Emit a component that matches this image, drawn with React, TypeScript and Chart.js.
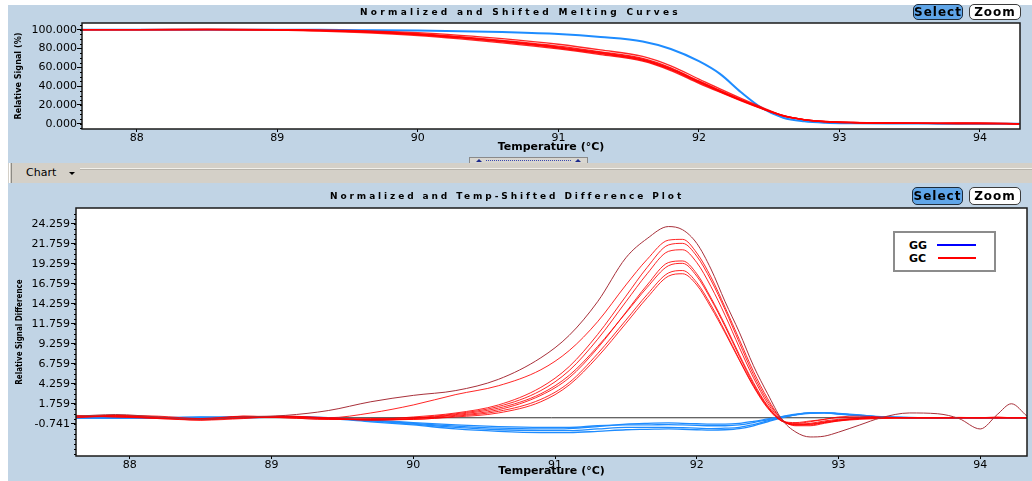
import React, { useEffect, useRef } from "react";
import { Chart, registerables } from "chart.js";

Chart.register(...registerables);

const TICK_FONT = "'DejaVu Sans', Verdana, sans-serif";
const NARROW_FONT = "'Liberation Sans Narrow', 'DejaVu Sans Condensed', 'Arial Narrow', 'DejaVu Sans', sans-serif";

// ---------- Top panel: normalized melting curves ----------
const topTemps = [87.61, 88.0, 88.5, 89.0, 89.3, 89.6, 90.0, 90.3, 90.6, 91.0, 91.3, 91.6, 91.8, 92.0, 92.15, 92.3, 92.45, 92.6, 92.75, 92.9, 93.1, 93.4, 93.7, 94.0, 94.28];
const topGG = [100, 100, 100, 100, 99.8, 99.5, 99, 98.4, 97.4, 95.3, 92.2, 87.5, 79.5, 66.5, 53, 33.5, 16.5, 6.4, 2.6, 1.1, 0.5, 0.2, 0.1, 0, 0];
const topGC1 = [100, 100, 100, 100, 99.6, 99, 96.8, 94, 90.5, 84.5, 78.5, 71.5, 61.5, 47.5, 37, 27, 17.5, 8.8, 4.2, 2.1, 1.1, 0.5, 0.3, 0.2, 0];
const topGC2 = [100, 100, 100.4, 100, 99.3, 98.4, 95.8, 92.6, 88.6, 82.5, 76.5, 69.5, 59.5, 45.5, 35.5, 25.7, 16.6, 8.5, 4.2, 2.2, 1.2, 0.6, 0.3, 0.2, 0];
const topGC3 = [100, 100, 100, 99.8, 99, 97.8, 95, 91.6, 87.5, 81, 75, 68, 58, 44.5, 34.5, 25, 16.2, 8.4, 4.4, 2.4, 1.4, 0.8, 0.5, 0.6, 0.2];
const topGC4 = [100, 100, 100, 99.5, 98.6, 97, 93.8, 90.2, 86, 79.5, 73.5, 66.5, 56.5, 43, 33.5, 24.3, 15.8, 8.2, 4.4, 2.5, 1.4, 0.6, 0.2, 0.3, -0.3];
const topGC5 = [100, 100, 100.5, 100, 99.2, 98.1, 95.3, 92, 88, 81.8, 75.8, 68.8, 58.8, 45, 35, 25.3, 16.4, 8.5, 4.2, 2.1, 1.0, 0.4, 0.4, 0.2, 0.1];
const topGC6 = [100, 100, 100, 99.7, 99.1, 97.6, 94.6, 91.2, 87, 80.5, 74.5, 67.5, 57.5, 44, 34.2, 24.8, 16, 8.3, 4.3, 2.3, 1.3, 0.7, 0.4, 0.8, 0];

// ---------- Bottom panel: difference plot ----------
const diffTemps = [87.62, 87.9, 88.2, 88.5, 88.8, 89.1, 89.4, 89.7, 90.0, 90.3, 90.6, 90.9, 91.1, 91.3, 91.5, 91.65, 91.8, 91.9, 92.0, 92.1, 92.2, 92.3, 92.4, 92.5, 92.6, 92.7, 92.8, 92.9, 93.0, 93.15, 93.3, 93.5, 93.7, 93.85, 94.0, 94.12, 94.22, 94.33];
const diffGC1 = [0.2, 0.4, 0.1, -0.2, 0.1, 0.3, 0.9, 2.0, 2.8, 3.4, 4.8, 7.5, 10.3, 14.5, 20.0, 22.4, 23.9, 23.5, 21.8, 18.6, 14.5, 10.7, 6.5, 3.0, -0.2, -1.8, -2.4, -2.3, -1.8, -0.9, 0.0, 0.6, 0.5, -0.1, -1.4, 0.4, 1.75, 0.2];
const diffGC2 = [0.1, 0.3, 0.2, -0.1, 0.2, 0.1, 0.0, 0.6, 1.6, 2.9, 4.0, 6.0, 8.4, 12.0, 16.6, 19.8, 22.2, 22.3, 20.6, 17.6, 13.8, 9.8, 5.8, 2.4, -0.2, -1.0, -1.0, -0.7, -0.4, -0.1, 0.0, 0.0, 0.0, 0.05, 0.0, 0.1, 0.0, 0.0];
const diffGC3 = [0.1, 0.2, 0.0, -0.2, 0.0, 0.2, -0.1, -0.2, 0.1, 0.6, 1.6, 3.8, 6.4, 10.4, 15.2, 18.8, 21.6, 21.8, 20.2, 17.2, 13.5, 9.4, 5.4, 2.1, -0.2, -0.9, -0.9, -0.6, -0.3, -0.1, 0.0, 0.0, 0.0, 0.0, 0.0, 0.0, 0.0, 0.0];
const diffGC4 = [0.3, 0.1, -0.1, -0.3, 0.2, 0.0, -0.2, -0.1, 0.0, 0.5, 1.4, 3.4, 5.9, 9.8, 14.5, 18.0, 20.8, 21.0, 19.4, 16.4, 12.8, 8.8, 5.0, 1.8, -0.3, -0.8, -0.7, -0.4, -0.2, -0.1, 0.0, 0.0, 0.0, 0.0, 0.0, 0.0, 0.0, 0.0];
const diffGC5 = [0.0, 0.2, 0.1, -0.2, 0.0, 0.1, -0.1, -0.2, -0.1, 0.3, 1.0, 2.8, 5.0, 8.7, 13.2, 16.6, 19.4, 19.6, 18.0, 15.0, 11.6, 7.9, 4.4, 1.5, -0.4, -0.9, -0.8, -0.5, -0.3, -0.1, 0.0, 0.0, 0.0, 0.0, 0.0, 0.0, 0.0, 0.0];
const diffGC6 = [0.2, 0.1, 0.0, -0.3, -0.1, 0.2, 0.0, -0.3, -0.1, 0.4, 1.2, 3.0, 5.3, 8.9, 13.1, 16.3, 19.0, 19.3, 17.7, 14.8, 11.4, 7.7, 4.2, 1.4, -0.4, -0.7, -0.5, -0.2, 0.0, 0.0, 0.0, 0.0, 0.0, 0.0, 0.0, 0.0, 0.0, 0.0];
const diffGC7 = [0.1, 0.3, 0.0, -0.1, 0.1, 0.0, -0.2, -0.2, -0.2, 0.2, 0.8, 2.3, 4.4, 8.0, 12.2, 15.4, 18.1, 18.4, 16.9, 14.1, 10.8, 7.3, 4.0, 1.3, -0.4, -0.8, -0.8, -0.6, -0.4, -0.2, -0.1, 0.0, 0.0, 0.0, 0.0, 0.0, 0.0, 0.0];
const diffGC8 = [0.2, 0.2, -0.1, -0.2, 0.0, 0.1, -0.1, -0.3, -0.2, 0.1, 0.6, 2.0, 4.1, 7.6, 11.8, 15.0, 17.7, 18.0, 16.6, 13.8, 10.6, 7.2, 3.9, 1.2, -0.4, -0.6, -0.4, -0.2, 0.1, 0.2, 0.1, 0.0, 0.0, 0.0, 0.0, 0.0, 0.0, 0.0];
const diffGG1 = [0.0, -0.05, 0.0, 0.1, 0.05, 0.1, -0.05, -0.3, -0.6, -0.9, -1.1, -1.2, -1.2, -1.0, -0.9, -0.9, -0.85, -0.9, -0.95, -1.0, -1.0, -0.9, -0.6, -0.25, 0.1, 0.4, 0.6, 0.65, 0.5, 0.3, 0.1, 0.0, 0.0, 0.0, 0.0, 0.0, 0.0, 0.0];
const diffGG2 = [-0.05, 0.0, 0.05, 0.0, 0.1, 0.15, 0.0, -0.4, -0.8, -1.2, -1.5, -1.6, -1.6, -1.4, -1.2, -1.2, -1.2, -1.25, -1.3, -1.35, -1.3, -1.2, -0.85, -0.4, 0.05, 0.35, 0.55, 0.6, 0.5, 0.3, 0.15, 0.05, 0.0, 0.0, 0.0, 0.0, 0.0, 0.0];
const diffGG3 = [0.0, 0.0, -0.05, 0.05, 0.1, 0.1, -0.1, -0.5, -0.9, -1.4, -1.7, -1.85, -1.85, -1.7, -1.5, -1.45, -1.4, -1.45, -1.5, -1.55, -1.5, -1.35, -1.0, -0.5, 0.0, 0.4, 0.6, 0.65, 0.55, 0.35, 0.1, 0.0, 0.0, 0.0, 0.0, 0.0, 0.0, 0.0];
const diffGG4 = [0.05, 0.0, 0.0, 0.05, 0.0, 0.1, 0.0, -0.35, -0.7, -1.05, -1.3, -1.4, -1.35, -1.1, -0.8, -0.7, -0.65, -0.7, -0.75, -0.8, -0.8, -0.7, -0.45, -0.15, 0.15, 0.45, 0.6, 0.6, 0.45, 0.25, 0.1, 0.0, 0.0, 0.0, 0.0, 0.0, 0.0, 0.0];
const zeroTemps = [87.62, 94.33];
const zeroValues = [0, 0];

// ---------- Ticks ----------
const xTickValues = [88, 89, 90, 91, 92, 93, 94];
const topYTickValues = [0, 20, 40, 60, 80, 100];
const diffYTickValues = [-0.741, 1.759, 4.259, 6.759, 9.259, 11.759, 14.259, 16.759, 19.259, 21.759, 24.259];

const pts = (xs: number[], ys: number[]) => xs.map((x, i) => ({ x, y: ys[i] }));

const framePlugin = {
  id: "frame",
  beforeDraw(chart: any) {
    const { ctx, chartArea: a } = chart;
    ctx.save();
    ctx.fillStyle = "#ffffff";
    ctx.fillRect(a.left, a.top, a.right - a.left, a.bottom - a.top);
    ctx.restore();
  },
  afterDraw(chart: any, _args: any, opts: any) {
    const { ctx, chartArea: a, scales } = chart;
    ctx.save();
    ctx.strokeStyle = "#1a1a1a";
    ctx.lineWidth = 1.5;
    ctx.strokeRect(a.left, a.top, a.right - a.left, a.bottom - a.top);
    if (opts && opts.minorY) {
      const { start, step, end, len } = opts.minorY;
      ctx.lineWidth = 1;
      ctx.strokeStyle = "#000";
      ctx.beginPath();
      for (let v = start; v <= end + 1e-9; v += step) {
        const y = Math.round(scales.y.getPixelForValue(v)) + 0.5;
        if (y < a.top || y > a.bottom) continue;
        ctx.moveTo(a.left - len, y);
        ctx.lineTo(a.left, y);
      }
      ctx.stroke();
    }
    ctx.restore();
  },
};

function xScale(min: number, max: number, height: number, titlePad: number) {
  return {
    type: "linear",
    min,
    max,
    afterBuildTicks: (s: any) => {
      s.ticks = xTickValues.map((v) => ({ value: v }));
    },
    afterFit: (s: any) => {
      s.height = height;
    },
    grid: { drawOnChartArea: false, drawTicks: true, tickLength: 3, color: "#000" },
    border: { display: false },
    ticks: {
      padding: 0,
      color: "#000",
      autoSkip: false,
      maxRotation: 0,
      font: { family: TICK_FONT, size: 11 },
      callback: (v: any) => String(v),
    },
    title: {
      display: true,
      text: "Temperature (°C)",
      color: "#000",
      font: { family: TICK_FONT, size: 11, weight: "bold" },
      padding: { top: 0, bottom: titlePad },
    },
  };
}

function yScale(
  min: number,
  max: number,
  width: number,
  tickVals: number[],
  title: string,
  titleX: number,
  titleSize: number,
  tickPad: number
) {
  return {
    type: "linear",
    min,
    max,
    afterBuildTicks: (s: any) => {
      s.ticks = tickVals.map((v) => ({ value: v }));
    },
    afterFit: (s: any) => {
      s.width = width;
    },
    grid: { drawOnChartArea: false, drawTicks: true, tickLength: 5, color: "#000" },
    border: { display: false },
    ticks: {
      padding: tickPad,
      color: "#000",
      autoSkip: false,
      font: { family: TICK_FONT, size: 11 },
      callback: (v: any) => Number(v).toFixed(3),
    },
    title: {
      display: true,
      text: title,
      color: "#000",
      font: { family: NARROW_FONT, size: titleSize, weight: "bold", lineHeight: 1.2 },
      padding: { top: titleX - titleSize * 0.6, bottom: 0 },
    },
  };
}

const RED = "rgba(255,0,0,0.85)";
const DARK_RED = "#a8303a";
const BLUE = "#1e8cff";

function topConfig(): any {
  const reds = [topGC1, topGC2, topGC3, topGC4, topGC5, topGC6].map((v) => ({
    data: pts(topTemps, v),
    borderColor: RED,
    borderWidth: 1.3,
  }));
  return {
    type: "line",
    data: {
      datasets: [...reds, { data: pts(topTemps, topGG), borderColor: BLUE, borderWidth: 2 }],
    },
    options: {
      responsive: false,
      animation: false,
      layout: { padding: { top: 23, right: 12, left: 0, bottom: 1 } },
      elements: { point: { radius: 0 }, line: { cubicInterpolationMode: "monotone", fill: false } },
      plugins: {
        legend: { display: false },
        tooltip: { enabled: false },
        frame: { minorY: { start: -5, step: 5, end: 105, len: 2 } },
      },
      scales: {
        x: xScale(87.61, 94.285, 25, 0),
        y: yScale(-5.6, 107.1, 82, topYTickValues, "Relative Signal (%)", 19, 9, 0),
      },
    },
    plugins: [framePlugin],
  };
}

function bottomConfig(): any {
  const redSets = [diffGC1, diffGC2, diffGC3, diffGC4, diffGC5, diffGC6, diffGC7, diffGC8].map((v, i) => ({
    data: pts(diffTemps, v),
    borderColor: i === 0 ? DARK_RED : RED,
    borderWidth: 1,
  }));
  const blueSets = [diffGG1, diffGG2, diffGG3, diffGG4].map((v) => ({
    data: pts(diffTemps, v),
    borderColor: BLUE,
    borderWidth: 1.3,
  }));
  return {
    type: "line",
    data: {
      datasets: [
        ...redSets,
        ...blueSets,
        { data: pts(zeroTemps, zeroValues), borderColor: "#303030", borderWidth: 1, cubicInterpolationMode: "default", tension: 0 },
      ],
    },
    options: {
      responsive: false,
      animation: false,
      layout: { padding: { top: 25, right: 5, left: 0, bottom: 3 } },
      elements: { point: { radius: 0 }, line: { cubicInterpolationMode: "monotone", fill: false } },
      plugins: {
        legend: { display: false },
        tooltip: { enabled: false },
        frame: { minorY: { start: -4.491, step: 0.625, end: 26, len: 2 } },
      },
      scales: {
        x: xScale(87.62, 94.33, 22, 0),
        y: yScale(-4.78, 26.22, 76, diffYTickValues, "Relative Signal Difference", 20, 8, 1),
      },
    },
    plugins: [framePlugin],
  };
}

const BG = "#c1d4e5";

function Button({ left, top, w, h, active, children }: any) {
  return (
    <div
      style={{
        position: "absolute",
        left,
        top,
        width: w,
        height: h,
        boxSizing: "border-box",
        border: active ? "1px solid #1d2b3a" : "1px solid #3c3c3c",
        borderRadius: 5,
        background: active ? "#5fa5e8" : "#ffffff",
        font: `bold 12px ${TICK_FONT}`,
        letterSpacing: 1,
        color: "#000",
        textAlign: "center",
        lineHeight: `${h - 2}px`,
      }}
    >
      {children}
    </div>
  );
}

const titleStyle = (left: number, top: number, spacing: number): React.CSSProperties => ({
  position: "absolute",
  left,
  top,
  font: `bold 9px ${TICK_FONT}`,
  letterSpacing: spacing,
  lineHeight: "11px",
  color: "#000",
  whiteSpace: "nowrap",
});

export default function App() {
  const topRef = useRef<HTMLCanvasElement>(null);
  const botRef = useRef<HTMLCanvasElement>(null);

  useEffect(() => {
    const c1 = new Chart(topRef.current as HTMLCanvasElement, topConfig());
    const c2 = new Chart(botRef.current as HTMLCanvasElement, bottomConfig());
    return () => {
      c1.destroy();
      c2.destroy();
    };
  }, []);

  return (
    <div style={{ position: "fixed", left: 0, top: 0, width: 1032, height: 481, background: BG, overflow: "hidden" }}>
      <div style={{ position: "absolute", left: 0, top: 0, width: 8, height: 481, background: "#fff" }} />
      <div style={{ position: "absolute", left: 0, top: 0, width: 1032, height: 5, background: "#fff" }} />

      <canvas ref={topRef} width={1032} height={155} style={{ position: "absolute", left: 0, top: 0, width: 1032, height: 155 }} />
      <div style={titleStyle(360, 7, 3.3)}>Normalized and Shifted Melting Curves</div>
      <Button left={913} top={4} w={50} h={16} active>
        Select
      </Button>
      <Button left={969} top={4} w={52} h={16}>
        Zoom
      </Button>

      {/* splitter handle */}
      <div
        style={{
          position: "absolute",
          left: 469,
          top: 157,
          width: 119,
          height: 7,
          boxSizing: "border-box",
          background: "#d8d6d0",
          border: "1px solid #8a8a8a",
        }}
      >
        <div style={{ position: "absolute", left: 6, top: 1, width: 0, height: 0, borderLeft: "3px solid transparent", borderRight: "3px solid transparent", borderBottom: "3px solid #1c2a8c" }} />
        <div style={{ position: "absolute", left: 16, right: 16, top: 2, borderTop: "1px dotted #3a4ab0" }} />
        <div style={{ position: "absolute", right: 6, top: 1, width: 0, height: 0, borderLeft: "3px solid transparent", borderRight: "3px solid transparent", borderBottom: "3px solid #1c2a8c" }} />
      </div>

      {/* toolbar */}
      <div style={{ position: "absolute", left: 8, top: 163, width: 1024, height: 20, background: "#d4d0c8" }}>
        <div style={{ position: "absolute", left: 1, top: 0, width: 1, height: 20, background: "#ffffff" }} />
        <div style={{ position: "absolute", left: 3, top: 0, width: 1, height: 20, background: "#8c8a84" }} />
        <div style={{ position: "absolute", left: 72, top: 5, width: 952, height: 1, background: "#f2f0ea" }} />
        <div style={{ position: "absolute", left: 72, top: 6, width: 952, height: 1, background: "#b8b4ac" }} />
        <div style={{ position: "absolute", left: 18, top: 3, font: `11px ${TICK_FONT}`, lineHeight: "14px", color: "#000" }}>Chart</div>
        <div style={{ position: "absolute", left: 61, top: 9, width: 0, height: 0, borderLeft: "3px solid transparent", borderRight: "3px solid transparent", borderTop: "3px solid #000" }} />
      </div>

      <canvas ref={botRef} width={1032} height={298} style={{ position: "absolute", left: 0, top: 183, width: 1032, height: 298 }} />
      <div style={titleStyle(330, 191, 2.9)}>Normalized and Temp-Shifted Difference Plot</div>
      <Button left={912} top={187} w={51} h={18} active>
        Select
      </Button>
      <Button left={969} top={187} w={52} h={18}>
        Zoom
      </Button>

      {/* legend */}
      <div
        style={{
          position: "absolute",
          left: 893,
          top: 231,
          width: 103,
          height: 41,
          boxSizing: "border-box",
          border: "2px solid #8c8c8c",
          background: "#fff",
        }}
      >
        <div style={{ position: "absolute", left: 14, top: 6, font: `bold 11px ${TICK_FONT}`, lineHeight: "13px", color: "#000" }}>GG</div>
        <div style={{ position: "absolute", left: 42, top: 11, width: 39, height: 2, background: "#0000ff" }} />
        <div style={{ position: "absolute", left: 14, top: 19, font: `bold 11px ${TICK_FONT}`, lineHeight: "13px", color: "#000" }}>GC</div>
        <div style={{ position: "absolute", left: 43, top: 24, width: 38, height: 2, background: "#ff0000" }} />
      </div>
    </div>
  );
}
